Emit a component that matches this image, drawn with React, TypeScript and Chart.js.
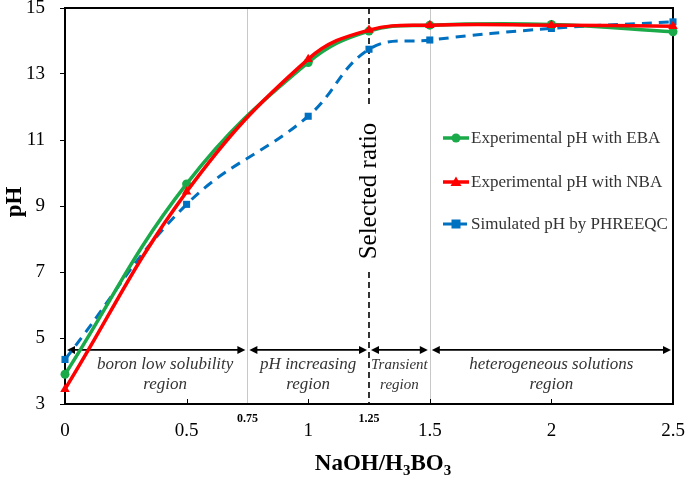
import React, { useEffect, useRef } from "react";
import { Chart, registerables } from "chart.js";

Chart.register(...registerables);

const xValues = [0, 0.5, 1, 1.25, 1.5, 2, 2.5];
const phEBA = [3.9, 9.67, 13.35, 14.3, 14.48, 14.5, 14.28];
const phNBA = [3.45, 9.43, 13.45, 14.33, 14.48, 14.48, 14.45];
const phSim = [4.35, 9.05, 11.72, 13.75, 14.03, 14.38, 14.58];

const seriesNames = [
  "Experimental pH with EBA",
  "Experimental pH with NBA",
  "Simulated pH by PHREEQC",
];

const yTicks = [3, 5, 7, 9, 11, 13, 15];
const xTicks = [0, 0.5, 1, 1.5, 2, 2.5];
const extraXTicks = [0.75, 1.25];
const regionBounds = [0, 0.75, 1.25, 1.5, 2.5];
const regionLabels = [
  ["boron low solubility", "region"],
  ["pH increasing", "region"],
  ["Transient", "region"],
  ["heterogeneous solutions", "region"],
];
const arrowY = 4.64;
const selectedRatio = 1.25;
const greyLines = [0.75, 1.5];

const GREEN = "#1aaa4a";
const RED = "#ff0000";
const BLUE = "#0070c0";
const SERIF = "'Liberation Serif', 'Times New Roman', serif";

function drawArrowHead(ctx: CanvasRenderingContext2D, x: number, y: number, dir: number) {
  ctx.beginPath();
  ctx.moveTo(x, y);
  ctx.lineTo(x - dir * 8, y - 4);
  ctx.lineTo(x - dir * 8, y + 4);
  ctx.closePath();
  ctx.fill();
}

const overlayPlugin = {
  id: "overlay",
  beforeDatasetsDraw(chart: any) {
    const ctx = chart.ctx as CanvasRenderingContext2D;
    const { top, bottom, left, right } = chart.chartArea;
    const xs = chart.scales.x;
    ctx.save();
    // grey region lines
    ctx.strokeStyle = "#c8c8c8";
    ctx.lineWidth = 1;
    greyLines.forEach((v) => {
      const px = Math.round(xs.getPixelForValue(v)) + 0.5;
      ctx.beginPath();
      ctx.moveTo(px, top);
      ctx.lineTo(px, bottom);
      ctx.stroke();
    });
    // selected ratio dashed line
    const sx = xs.getPixelForValue(selectedRatio);
    ctx.strokeStyle = "#000";
    ctx.lineWidth = 1.6;
    ctx.setLineDash([6, 4]);
    ctx.beginPath();
    ctx.moveTo(sx, top);
    ctx.lineTo(sx, top + 99);
    ctx.moveTo(sx, top + 264);
    ctx.lineTo(sx, bottom);
    ctx.stroke();
    ctx.setLineDash([]);
    // frame
    ctx.strokeStyle = "#000";
    ctx.lineWidth = 2;
    ctx.strokeRect(left, top, right - left, bottom - top);
    // inward x ticks
    ctx.lineWidth = 1;
    xTicks.forEach((v) => {
      const px = Math.round(xs.getPixelForValue(v)) + 0.5;
      ctx.beginPath();
      ctx.moveTo(px, bottom);
      ctx.lineTo(px, bottom - 5);
      ctx.stroke();
    });
    // arrows
    const ys = chart.scales.y;
    const ay = ys.getPixelForValue(arrowY);
    ctx.fillStyle = "#000";
    ctx.lineWidth = 1.6;
    for (let i = 0; i < regionBounds.length - 1; i++) {
      const x1 = xs.getPixelForValue(regionBounds[i]) + 2;
      const x2 = xs.getPixelForValue(regionBounds[i + 1]) - 2;
      ctx.beginPath();
      ctx.moveTo(x1 + 4, ay);
      ctx.lineTo(x2 - 4, ay);
      ctx.stroke();
      drawArrowHead(ctx, x1, ay, -1);
      drawArrowHead(ctx, x2, ay, 1);
    }
    // region labels
    ctx.fillStyle = "#333";
    ctx.textAlign = "center";
    ctx.textBaseline = "middle";
    regionLabels.forEach((lines, i) => {
      let cx = (xs.getPixelForValue(regionBounds[i]) + xs.getPixelForValue(regionBounds[i + 1])) / 2;
      if (i === 0) cx += 9;
      const size = i === 2 ? 15 : 17;
      ctx.font = `italic ${size}px ${SERIF}`;
      ctx.fillText(lines[0], cx, ay + 15);
      ctx.fillText(lines[1], cx, ay + 35);
    });
    ctx.restore();
  },
  afterDraw(chart: any) {
    const ctx = chart.ctx as CanvasRenderingContext2D;
    const { top, bottom } = chart.chartArea;
    const xs = chart.scales.x;
    ctx.save();
    // extra bold ticks
    ctx.fillStyle = "#000";
    ctx.font = `bold 12px ${SERIF}`;
    ctx.textAlign = "center";
    ctx.textBaseline = "middle";
    extraXTicks.forEach((v) => {
      ctx.fillText(String(v), xs.getPixelForValue(v), bottom + 15);
    });
    // Selected ratio text
    const sx = xs.getPixelForValue(selectedRatio);
    ctx.save();
    ctx.translate(sx, top + 183);
    ctx.rotate(-Math.PI / 2);
    ctx.font = `25px ${SERIF}`;
    ctx.fillStyle = "#000";
    ctx.fillText("Selected ratio", 0, 0);
    ctx.restore();
    // legend
    const lx = 443;
    const lys = [138, 182, 224];
    const colors = [GREEN, RED, BLUE];
    lys.forEach((ly, i) => {
      ctx.strokeStyle = colors[i];
      ctx.fillStyle = colors[i];
      ctx.lineWidth = i === 2 ? 3 : 3.5;
      if (i === 2) ctx.setLineDash([9, 6]);
      ctx.beginPath();
      ctx.moveTo(lx, ly);
      ctx.lineTo(lx + 26, ly);
      ctx.stroke();
      ctx.setLineDash([]);
      const mx = lx + 13;
      if (i === 0) {
        ctx.beginPath();
        ctx.arc(mx, ly, 4.5, 0, Math.PI * 2);
        ctx.fill();
      } else if (i === 1) {
        ctx.beginPath();
        ctx.moveTo(mx, ly - 5.5);
        ctx.lineTo(mx + 5.5, ly + 4);
        ctx.lineTo(mx - 5.5, ly + 4);
        ctx.closePath();
        ctx.fill();
      } else {
        ctx.fillRect(mx - 4.5, ly - 4.5, 9, 9);
      }
      ctx.fillStyle = "#333";
      ctx.font = `17px ${SERIF}`;
      ctx.textAlign = "left";
      ctx.textBaseline = "middle";
      ctx.fillText(seriesNames[i], lx + 28, ly + 1);
    });
    // y title
    ctx.save();
    ctx.translate(15, 202);
    ctx.rotate(-Math.PI / 2);
    ctx.font = `bold 23px ${SERIF}`;
    ctx.fillStyle = "#000";
    ctx.textAlign = "center";
    ctx.textBaseline = "middle";
    ctx.fillText("pH", 0, 0);
    ctx.restore();
    // x title with subscripts
    const parts: [string, boolean][] = [["NaOH/H", false], ["3", true], ["BO", false], ["3", true]];
    const big = `bold 23px ${SERIF}`;
    const small = `bold 15px ${SERIF}`;
    let total = 0;
    parts.forEach(([t, sub]) => {
      ctx.font = sub ? small : big;
      total += ctx.measureText(t).width;
    });
    let cx = 383 - total / 2;
    const base = 470;
    ctx.fillStyle = "#000";
    ctx.textAlign = "left";
    ctx.textBaseline = "alphabetic";
    parts.forEach(([t, sub]) => {
      ctx.font = sub ? small : big;
      ctx.fillText(t, cx, sub ? base + 5 : base);
      cx += ctx.measureText(t).width;
    });
    ctx.restore();
  },
};

export default function App() {
  const ref = useRef<HTMLCanvasElement | null>(null);
  useEffect(() => {
    if (!ref.current) return;
    const mk = (arr: number[]) => xValues.map((x, i) => ({ x, y: arr[i] }));
    const chart = new Chart(ref.current, {
      type: "line",
      data: {
        datasets: [
          {
            label: seriesNames[1],
            data: mk(phNBA),
            borderColor: RED,
            backgroundColor: RED,
            borderWidth: 3.5,
            pointStyle: "triangle",
            pointRadius: 5.5,
            pointBorderWidth: 0,
            tension: 0.4,
            order: 0,
            clip: false as any,
          },
          {
            label: seriesNames[0],
            data: mk(phEBA),
            borderColor: GREEN,
            backgroundColor: GREEN,
            borderWidth: 3.5,
            pointStyle: "circle",
            pointRadius: 4.5,
            pointBorderWidth: 0,
            tension: 0.4,
            order: 1,
            clip: false as any,
          },
          {
            label: seriesNames[2],
            data: mk(phSim),
            borderColor: BLUE,
            backgroundColor: BLUE,
            borderWidth: 3,
            borderDash: [10, 7],
            pointStyle: "rect",
            pointRadius: 5,
            pointBorderWidth: 0,
            tension: 0.4,
            order: 2,
            clip: false as any,
          },
        ],
      },
      options: {
        responsive: false,
        animation: false,
        layout: { padding: { top: 8, right: 12, left: 0, bottom: 0 } },
        plugins: { legend: { display: false }, tooltip: { enabled: false } },
        scales: {
          x: {
            type: "linear",
            min: 0,
            max: 2.5,
            afterFit: (s: any) => {
              s.height = 74;
              s.paddingLeft = 0;
              s.paddingRight = 0;
            },
            afterBuildTicks: (s: any) => {
              s.ticks = xTicks.map((v) => ({ value: v }));
            },
            ticks: {
              callback: (v: any) => String(v),
              font: { family: SERIF, size: 19 },
              color: "#000",
              padding: 16,
              maxRotation: 0,
            },
            grid: { display: false, drawTicks: false },
            border: { display: false },
          },
          y: {
            min: 3,
            max: 15,
            afterFit: (s: any) => {
              s.width = 65;
              s.paddingTop = 0;
              s.paddingBottom = 0;
            },
            afterBuildTicks: (s: any) => {
              s.ticks = yTicks.map((v) => ({ value: v }));
            },
            ticks: {
              callback: (v: any) => String(v),
              font: { family: SERIF, size: 19 },
              color: "#000",
              padding: 15,
            },
            grid: { drawOnChartArea: false, drawTicks: true, tickLength: 5, color: "#000" },
            border: { display: false },
          },
        },
      },
      plugins: [overlayPlugin],
    });
    return () => chart.destroy();
  }, []);
  return (
    <div style={{ position: "fixed", left: 0, top: 0, width: 685, height: 478, background: "#fff" }}>
      <canvas ref={ref} width={685} height={478} />
    </div>
  );
}
